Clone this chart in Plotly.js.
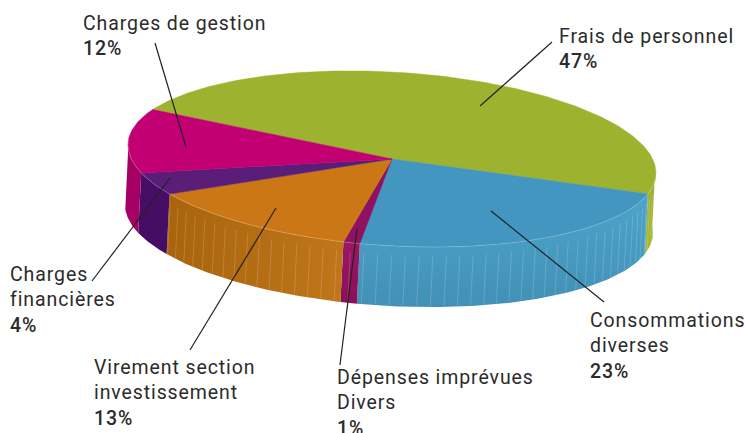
<!DOCTYPE html>
<html><head><meta charset="utf-8">
<script src="https://cdn.plot.ly/plotly-3.0.0.min.js"></script>
<style>html,body{margin:0;padding:0;background:#fff}#c{width:745px;height:433px}
.annotation-text{letter-spacing:0.9px}</style>
</head><body><div id="c"></div>
<script>
const categories = ['Frais de personnel','Consommations diverses','Dépenses imprévues Divers','Virement section investissement','Charges financières','Charges de gestion'];
const values = [47,23,1,13,4,12];
const topColors = ['#9DB32F','#4396BF','#8E1260','#CB7715','#5A1E78','#C20074'];
const wallFrom = ['#A8B838','#4290B6','#8A1058','#A8640C','#440C62','#A80068'];
const wallTo = ['#98AE2C','#4DA4CB','#9C1664','#C0761A','#480E66','#A00060'];
const facetOn = [true,true,true,true,false,false];
const labelLines = [
  ['Frais de personnel'],['Consommations','diverses'],['Dépenses imprévues','Divers'],
  ['Virement section','investissement'],['Charges','financières'],['Charges de gestion']];
const labelX = [558,589,336,93,9,82];
const labelY = [23.5,307.5,364.5,354.5,261.5,10.5];
const leaderFrom = [[552,42],[604,302],[340,365],[190,350],[92,281],[155,43]];
const leaderTo = [[480,106],[491,211],[357,229],[276,208],[170,178],[186,147]];

const cx=392, cy=159, rx=264, ry=87, shear=0.053, startAngle=155, wallDx=-3, wallDy=60;
const rad=d=>d*Math.PI/180;
const ptTop=t=>[cx+rx*Math.cos(rad(t)), cy-ry*Math.sin(rad(t))+shear*rx*Math.cos(rad(t))];
const ptBot=t=>{const p=ptTop(t);return [p[0]+wallDx,p[1]+wallDy];};
function arc(a,b,f){const n=Math.max(2,Math.ceil(Math.abs(a-b)));const o=[];for(let i=0;i<=n;i++)o.push(f(a+(b-a)*i/n));return o;}
const total=values.reduce((a,b)=>a+b,0);
let ang=startAngle; const ranges=values.map(v=>{const s=ang;ang-=v/total*360;return [s,ang];});
const traces=[];
// walls
ranges.forEach((r,i)=>{
  const a=Math.min(r[0],4), b=Math.max(r[1],-184);
  if(a<=b) return;
  const pts=arc(a,b,ptTop).concat(arc(b,a,ptBot));
  pts.push(pts[0]);
  traces.push({type:'scatter',mode:'lines',x:pts.map(p=>p[0]),y:pts.map(p=>p[1]),line:{width:0,color:wallTo[i]},fill:'toself',
    fillcolor:wallTo[i],
    fillgradient:{type:i===3||i===0?'horizontal':'vertical',colorscale:[[0,wallFrom[i]],[1,wallTo[i]]]},hoverinfo:'skip'});
  if(facetOn[i]){
    const fx=[],fy=[];
    for(let t=Math.floor(a/3)*3;t>b;t-=3){
      const p=ptTop(t),q=ptBot(t);
      fx.push(p[0]+(q[0]-p[0])*0.15,q[0],null);fy.push(p[1]+(q[1]-p[1])*0.15,q[1]-1,null);
    }
    traces.push({type:'scatter',mode:'lines',x:fx,y:fy,line:{width:1,color:'rgba(255,255,255,0.17)'},hoverinfo:'skip'});
  }
});
// top face
ranges.forEach((r,i)=>{
  const pts=[[cx,cy]].concat(arc(r[0],r[1],ptTop));pts.push([cx,cy]);
  traces.push({type:'scatter',mode:'lines',x:pts.map(p=>p[0]),y:pts.map(p=>p[1]),line:{width:0.5,color:topColors[i]},fill:'toself',fillcolor:topColors[i],hoverinfo:'skip'});
});
// rim
const rim=arc(4,-184,ptTop);
traces.push({type:'scatter',mode:'lines',x:rim.map(p=>p[0]),y:rim.map(p=>p[1]),line:{width:1,color:'rgba(255,255,255,0.2)'},hoverinfo:'skip'});
// leaders
categories.forEach((c,i)=>{
  traces.push({type:'scatter',mode:'lines',x:[leaderFrom[i][0],leaderTo[i][0]],y:[leaderFrom[i][1],leaderTo[i][1]],line:{width:1.2,color:'#222'},hoverinfo:'skip'});
});
const annotations=categories.map((c,i)=>({
  xref:'x',yref:'y',x:labelX[i],y:labelY[i],xanchor:'left',yanchor:'top',align:'left',showarrow:false,borderpad:0,
  text:labelLines[i].join('<br>')+'<br><span style="font-weight:500">'+values[i]+'%</span>',
  font:{family:'Roboto, sans-serif',size:19.5,color:'#2b2b2b'}
}));
Plotly.newPlot('c',traces,{
  width:745,height:433,margin:{l:0,r:0,t:0,b:0},showlegend:false,paper_bgcolor:'#fff',plot_bgcolor:'#fff',
  xaxis:{range:[0,745],visible:false,fixedrange:true},
  yaxis:{range:[433,0],visible:false,fixedrange:true},
  annotations
},{displayModeBar:false,staticPlot:true});
</script></body></html>
